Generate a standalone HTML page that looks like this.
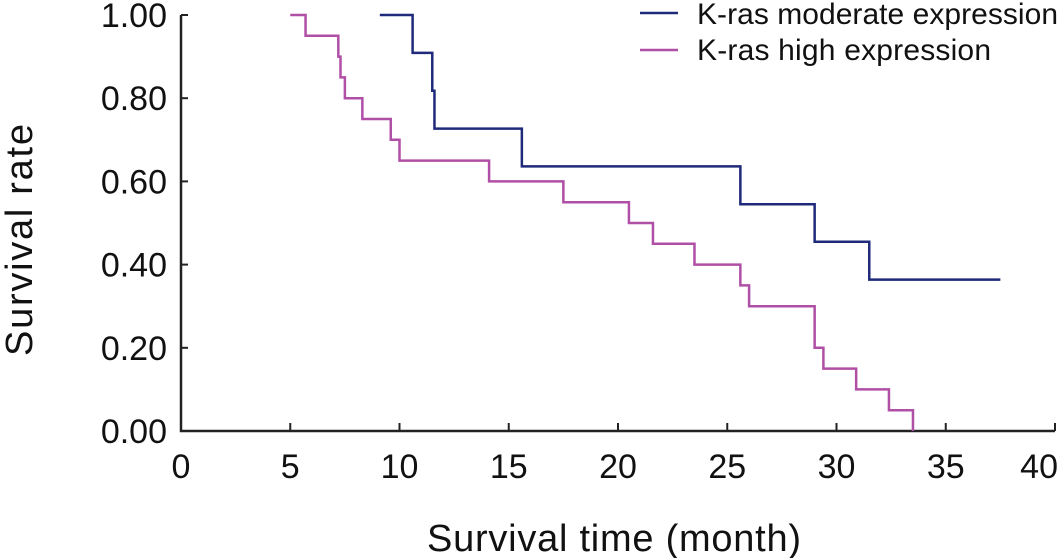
<!DOCTYPE html>
<html><head><meta charset="utf-8"><style>
html,body{margin:0;padding:0;background:#fff;}
svg{display:block;font-family:"Liberation Sans",Arial,sans-serif;}
</style></head><body>
<svg id="chart" width="1063" height="558" viewBox="0 0 1063 558">
<g id="axes"></g>
<g id="series"></g>
<g>
<line x1="640" y1="13" x2="678" y2="13" stroke="#1f2a7a" stroke-width="2.5"/>
<text x="697" y="24" font-size="30" textLength="361" fill="#111">K-ras moderate expression</text>
<line x1="640" y1="50" x2="678" y2="50" stroke="#b04fa6" stroke-width="2.5"/>
<text x="697" y="60" font-size="30" textLength="294" fill="#111">K-ras high expression</text>
</g>
<text x="614" y="551" font-size="38" text-anchor="middle" textLength="374" fill="#111">Survival time (month)</text>
<text transform="translate(32,240) rotate(-90)" font-size="38" text-anchor="middle" textLength="232" fill="#111">Survival rate</text>
</svg>
<script>
const xTicks=[0,5,10,15,20,25,30,35,40];
const yTicks=[0,0.2,0.4,0.6,0.8,1.0];
const yTickLabels=["0.00","0.20","0.40","0.60","0.80","1.00"];
const moderateTimes=[9.1,10.6,11.5,11.6,15.6,25.6,29.0,31.5,37.5];
const moderateSurv=[1.0,0.909,0.818,0.727,0.636,0.545,0.455,0.364,0.364];
const highTimes=[5.0,5.7,7.2,7.3,7.5,8.3,9.6,10.0,14.1,17.5,20.5,21.6,23.5,25.6,26.0,29.0,29.4,30.9,32.4,33.5];
const highSurv=[1.0,0.95,0.90,0.85,0.80,0.75,0.70,0.65,0.60,0.55,0.50,0.45,0.40,0.35,0.30,0.20,0.15,0.10,0.05,0.0];

const NS="http://www.w3.org/2000/svg";
function X(v){return 181+v*(1055-181)/40;}
function Y(v){return 431-v*(431-15);}
function mk(tag,attrs,parent){const e=document.createElementNS(NS,tag);for(const k in attrs)e.setAttribute(k,attrs[k]);parent.appendChild(e);return e;}
const axes=document.getElementById('axes');
let a=mk('path',{d:`M${X(0)},${Y(1)} V${Y(0)} H${X(40)}`,fill:'none',stroke:'#222','stroke-width':2.5},axes);


xTicks.forEach((t,i)=>{
  const l=mk('line',{x1:X(t),x2:X(t),y1:Y(0),y2:Y(0)-8,stroke:'#222','stroke-width':2},axes);
  
  
  const last=i===xTicks.length-1;
  const tx=mk('text',{x:last?1058:X(t),y:478,'font-size':34,'text-anchor':last?'end':'middle',fill:'#111'},axes);
  tx.textContent=t;
  
  
});
yTicks.forEach((t,i)=>{
  const l=mk('line',{x1:X(0),x2:X(0)+7,y1:Y(t),y2:Y(t),stroke:'#222','stroke-width':2},axes);
  
  
  const tx=mk('text',{x:167,y:Y(t)+12,'font-size':34,'text-anchor':'end',fill:'#111'},axes);
  tx.textContent=yTickLabels[i];
  
  
});
function stepPath(ts,ss){
  let d=`M${X(ts[0])},${Y(ss[0])}`;
  for(let i=1;i<ts.length;i++){d+=` H${X(ts[i])} V${Y(ss[i])}`;}
  return d;
}
const series=document.getElementById('series');
const p1=mk('path',{d:stepPath(moderateTimes,moderateSurv),fill:'none',stroke:'#1f2a7a','stroke-width':2.5},series);


const p2=mk('path',{d:stepPath(highTimes,highSurv),fill:'none',stroke:'#b04fa6','stroke-width':2.5},series);


</script>
</body></html>
